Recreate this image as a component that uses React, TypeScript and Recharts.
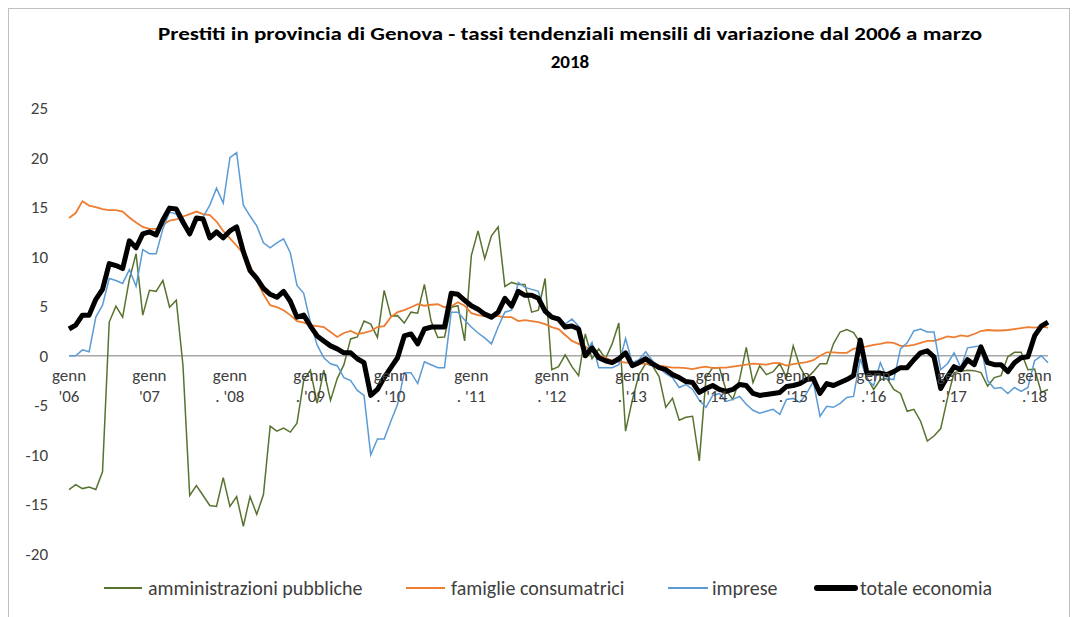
import { Legend, Line, LineChart, ReferenceLine, XAxis, YAxis } from "recharts";

// monthly categories, Jan 2006 .. Mar 2018
const months: string[] = [];
for (let year = 2006; year <= 2018; year++) {
  for (let m = 1; m <= 12; m++) {
    if (year === 2018 && m > 3) break;
    months.push(`${year}-${String(m).padStart(2, "0")}`);
  }
}

// one row per year
const amministrazioni = [
  -13.5, -13.0, -13.4, -13.25, -13.5, -11.7, 3.4, 5.0, 3.9, 7.7, 10.3, 4.1,
  6.6, 6.5, 7.6, 4.9, 5.6, -1.0, -14.1, -13.1, -14.1, -15.1, -15.2, -12.3,
  -15.2, -14.2, -17.2, -14.2, -16.0, -14.0, -7.1, -7.6, -7.3, -7.7, -6.8, -2.5,
  -1.45, -4.8, -1.45, -4.5, -2.3, -0.9, 1.7, 1.9, 3.5, 3.2, 1.85, 6.6,
  4.0, 4.05, 3.3, 4.4, 4.3, 7.2, 3.5, 1.85, 1.9, 4.9, 5.05, 1.5,
  10.1, 12.6, 9.8, 12.1, 13.0, 7.0, 7.4, 7.2, 7.2, 4.4, 4.6, 7.8,
  -1.4, -1.1, 0.1, -1.1, -2.0, 2.2, -0.3, 0.7, -0.3, 1.2, 3.3, -7.6,
  -4.5, -1.9, -0.8, -1.0, -2.1, -5.2, -4.3, -6.5, -6.2, -6.1, -10.6, -2.2,
  -1.2, -1.2, -3.5, -4.4, -2.4, 0.85, -2.7, -1.0, -1.9, -1.6, -0.8, -2.2,
  1.0, -1.1, -2.3, -1.6, -0.8, -0.8, 1.2, 2.4, 2.65, 2.35, 1.3, -2.2,
  -3.4, -2.4, -2.3, -3.4, -3.8, -5.6, -5.4, -6.6, -8.6, -8.1, -7.35, -4.3,
  -1.7, -1.55, -1.45, -1.5, -1.7, -3.05, -2.2, -2.0, -0.1, 0.35, 0.35, -1.4,
  -1.35, -3.7, -3.4,
];

const famiglie = [
  13.9, 14.4, 15.6, 15.15, 15.0, 14.8, 14.7, 14.7, 14.55, 13.95, 13.45, 13.0,
  12.8, 12.8, 13.2, 13.65, 13.75, 14.05, 14.3, 14.55, 14.3, 14.2, 13.55, 12.6,
  11.85, 11.1, 10.3, 9.1, 7.6, 6.2, 5.1, 4.9, 4.6, 4.1, 3.5, 3.35,
  3.1, 3.0, 2.9, 2.4, 1.9, 2.3, 2.5, 2.2, 2.3, 2.5, 2.9, 3.0,
  3.9, 4.4, 4.6, 4.9, 5.2, 5.05, 5.15, 5.2, 4.9, 5.0, 5.4, 5.05,
  4.3, 4.1, 4.0, 4.0, 4.0, 3.9, 3.9, 3.5, 3.6, 3.5, 3.4, 3.2,
  2.9, 2.7, 2.1, 1.5, 1.2, 0.9, 0.5, 0.1, -0.2, -0.5, -0.6, -0.7,
  -0.7, -0.8, -0.8, -0.85, -1.0, -1.1, -1.2, -1.2, -1.25, -1.35, -1.2, -1.1,
  -1.25, -1.2, -1.2, -1.1, -1.0, -0.9, -0.8, -0.85, -0.9, -0.75, -0.75, -1.0,
  -0.85, -0.75, -0.65, -0.45, 0.0, 0.35, 0.35, 0.3, 0.3, 0.7, 0.85, 0.95,
  1.1, 1.2, 1.35, 1.3, 1.0, 1.0, 1.1, 1.3, 1.5, 1.5, 1.7, 1.95,
  1.85, 2.05, 1.95, 2.2, 2.5, 2.6, 2.55, 2.55, 2.6, 2.7, 2.8, 2.9,
  2.85, 2.95, 2.85,
];

const imprese = [
  0.0, 0.0, 0.6, 0.4, 3.9, 5.1, 7.8, 7.6, 7.3, 8.7, 7.0, 10.7,
  10.3, 10.3, 12.8, 14.5, 14.3, 13.1, 12.1, 13.6, 14.0, 15.2, 16.9, 15.4,
  20.0, 20.5, 15.2, 14.1, 13.1, 11.4, 10.9, 11.4, 11.8, 10.4, 7.1, 6.3,
  3.4, 1.1, -0.2, -0.8, -1.0, -2.2, -2.5, -3.5, -4.0, -10.0, -8.4, -8.4,
  -6.6, -4.9, -1.7, -1.7, -2.8, -0.6, -0.9, -1.2, -1.2, 4.4, 4.4, 3.6,
  2.9, 2.3, 1.8, 1.2, 2.9, 4.4, 4.6, 7.4, 6.9, 6.7, 6.5, 4.4,
  4.0, 3.9, 3.2, 3.7, 3.0, 0.3, 1.35, -1.2, -1.2, -1.2, -0.9, 1.75,
  -0.7, -0.4, 0.4, -0.5, -1.2, -1.8, -2.2, -3.2, -2.9, -3.4, -4.5, -5.2,
  -4.0, -3.8, -4.6, -4.4, -4.1, -4.9, -5.5, -5.8, -5.6, -5.4, -5.9, -4.4,
  -4.3, -4.7, -3.8, -2.6, -6.1, -5.1, -5.2, -4.8, -4.2, -4.1, -0.3, -2.4,
  -3.0, -0.7, -2.3, -2.4, 0.7, 1.3, 2.5, 2.7, 2.4, 2.4, -1.4, -0.8,
  0.3, -1.2, 0.8, 0.9, 1.0, -2.5, -3.3, -3.2, -3.8, -3.2, -3.6, -3.2,
  -0.5, 0.0, -0.7,
];

const totale = [
  2.7, 3.1, 4.1, 4.1, 5.7, 6.7, 9.3, 9.1, 8.8, 11.6, 10.9, 12.3,
  12.5, 12.2, 13.7, 14.9, 14.8, 13.5, 12.3, 13.9, 13.8, 11.9, 12.5, 11.9,
  12.6, 13.0, 10.5, 8.6, 7.8, 6.8, 6.2, 5.9, 6.5, 5.5, 3.9, 4.1,
  3.0, 2.0, 1.5, 1.0, 0.7, 0.3, 0.3, -0.3, -0.7, -4.0, -3.4, -2.2,
  -1.2, -0.2, 2.0, 2.2, 1.2, 2.7, 2.9, 2.9, 2.9, 6.3, 6.2, 5.6,
  5.05, 4.7, 4.2, 3.9, 4.4, 5.8, 5.0, 6.5, 6.1, 6.1, 5.8, 4.5,
  3.9, 3.7, 2.9, 3.0, 2.7, 0.0, 0.8, -0.2, -0.5, -0.7, -0.3, 0.3,
  -1.0, -0.7, -0.3, -0.8, -1.2, -1.4, -1.9, -2.2, -2.6, -2.7, -3.7, -3.3,
  -3.0, -3.4, -3.6, -3.4, -2.9, -3.0, -3.8, -4.0, -3.9, -3.8, -3.7, -3.1,
  -3.0, -2.8, -2.4, -2.3, -3.8, -2.8, -3.0, -2.7, -2.4, -2.0, 1.6, -1.75,
  -1.75, -1.75, -1.9, -1.6, -1.2, -1.2, -0.4, 0.3, 0.5, -0.1, -3.3, -2.1,
  -1.1, -1.4, -0.4, -0.9, 0.9, -0.7, -0.9, -0.9, -1.6, -0.7, -0.2, -0.1,
  2.0, 3.0, 3.4,
];

const yTicks = [-20, -15, -10, -5, 0, 5, 10, 15, 20, 25];
const Y_MIN = -20;
const Y_MAX = 25;

const januaryTicks = months.filter((m) => m.endsWith("-01"));
const yearLabels = [
  "'06", "'07", ". '08", ". '09", ". '10", ". '11", ". '12",
  ". '13", ". '14", ". '15", ".'16", ".'17", ".'18",
];

const data = months.map((month, i) => ({
  month,
  amministrazioni: amministrazioni[i],
  famiglie: famiglie[i],
  imprese: imprese[i],
  totale: totale[i],
}));

const GREEN = "#58732f";
const ORANGE = "#ed7d31";
const BLUE = "#5b9bd5";
const BLACK = "#000000";
const TEXT = "#404040";
const FONT = "Carlito, Lato, 'Open Sans', sans-serif";

const CHART_W = 1062;
const CHART_H = 609;
const MARGIN = { top: 100, right: 22, bottom: 2, left: 11 };
const X_AXIS_H = 16;
const LEGEND_H = 45;
const PLOT_TOP = MARGIN.top;
const PLOT_BOTTOM = CHART_H - MARGIN.bottom - LEGEND_H - X_AXIS_H;
// category labels sit under the zero line, like Excel does
const ZERO_Y = PLOT_TOP + (Y_MAX / (Y_MAX - Y_MIN)) * (PLOT_BOTTOM - PLOT_TOP);

function MonthTick({ x, payload }: any) {
  const idx = januaryTicks.indexOf(payload.value);
  return (
    <g fontFamily={FONT} fontSize={17} fill={TEXT}>
      <text x={x} y={ZERO_Y + 25} textAnchor="middle">
        genn
      </text>
      <text x={x} y={ZERO_Y + 46} textAnchor="middle">
        {yearLabels[idx]}
      </text>
    </g>
  );
}

const legendItems = [
  { label: "amministrazioni pubbliche", color: GREEN, w: 2, x1: 85, x2: 123, tx: 129 },
  { label: "famiglie consumatrici", color: ORANGE, w: 2, x1: 387, x2: 426, tx: 432 },
  { label: "imprese", color: BLUE, w: 2, x1: 649, x2: 689, tx: 693 },
  { label: "totale economia", color: BLACK, w: 6, x1: 798, x2: 836, tx: 841 },
];

// legend box starts 10px below the plot, so its row sits at y = 18 inside it
function ChartLegend() {
  const w = CHART_W - MARGIN.left - MARGIN.right;
  return (
    <svg width={w} height={LEGEND_H} style={{ display: "block", overflow: "visible" }}>
      {legendItems.map((it) => (
        <g key={it.label}>
          <line
            x1={it.x1}
            x2={it.x2}
            y1={18}
            y2={18}
            stroke={it.color}
            strokeWidth={it.w}
            strokeLinecap={it.w > 3 ? "round" : "butt"}
          />
          <text x={it.tx} y={25} fontFamily={FONT} fontSize={20} fill={TEXT}>
            {it.label}
          </text>
        </g>
      ))}
    </svg>
  );
}

export default function App() {
  return (
    <div style={{ position: "relative", width: CHART_W, height: CHART_H }}>
      <LineChart width={CHART_W} height={CHART_H} data={data} margin={MARGIN}>
        <ReferenceLine y={0} stroke="#a6a6a6" strokeWidth={1.5} />
        <XAxis
          dataKey="month"
          ticks={januaryTicks}
          interval={0}
          height={X_AXIS_H}
          axisLine={false}
          tickLine={false}
          tick={<MonthTick />}
        />
        <YAxis
          domain={[Y_MIN, Y_MAX]}
          ticks={yTicks}
          interval={0}
          width={50}
          axisLine={false}
          tickLine={false}
          tickSize={0}
          tickMargin={21}
          tick={{ fontSize: 17, fill: TEXT, fontFamily: FONT }}
        />
        <Legend content={<ChartLegend />} />
        <Line
          dataKey="amministrazioni"
          stroke={GREEN}
          strokeWidth={1.5}
          dot={false}
          isAnimationActive={false}
        />
        <Line
          dataKey="famiglie"
          stroke={ORANGE}
          strokeWidth={1.8}
          dot={false}
          isAnimationActive={false}
        />
        <Line
          dataKey="imprese"
          stroke={BLUE}
          strokeWidth={1.5}
          dot={false}
          isAnimationActive={false}
        />
        <Line
          dataKey="totale"
          stroke={BLACK}
          strokeWidth={5}
          strokeLinejoin="round"
          dot={false}
          isAnimationActive={false}
        />
      </LineChart>
      <svg
        width={CHART_W}
        height={80}
        style={{ position: "absolute", left: 0, top: 0, pointerEvents: "none" }}
      >
        <text
          x={562}
          y={32}
          textAnchor="middle"
          fontFamily={FONT}
          fontWeight="bold"
          fontSize={19}
          fill="#000"
          textLength={824}
          lengthAdjust="spacingAndGlyphs"
        >
          Prestiti in provincia di Genova - tassi tendenziali mensili di variazione  dal 2006 a marzo
        </text>
        <text
          x={562}
          y={60}
          textAnchor="middle"
          fontFamily={FONT}
          fontWeight="bold"
          fontSize={19}
          fill="#000"
        >
          2018
        </text>
      </svg>
      <div
        style={{
          position: "absolute",
          left: 0,
          top: 0,
          width: CHART_W,
          height: 612,
          border: "1px solid #bfbfbf",
          boxSizing: "border-box",
          pointerEvents: "none",
        }}
      />
    </div>
  );
}
